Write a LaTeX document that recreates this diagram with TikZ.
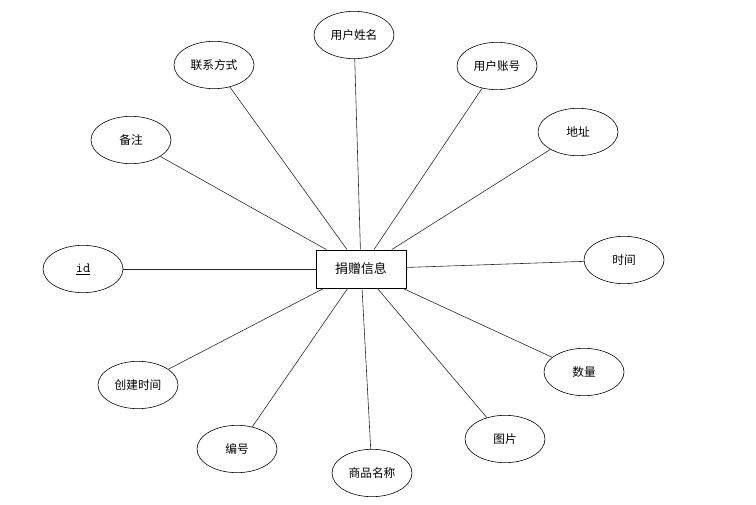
\documentclass[tikz,border=0pt]{standalone}
\usepackage{fontspec}
\newfontfamily\cjk{Noto Sans CJK SC}
\usetikzlibrary{shapes}
\tikzset{
	attr/.style={draw, ellipse, line width=0.5pt, minimum width=2.4cm,
		minimum height=1.42cm, inner sep=0pt, font=\cjk\fontsize{10}{12}\selectfont},
	entity/.style={draw, rectangle, line width=0.7pt, minimum width=2.7cm,
		minimum height=1.14cm, font=\cjk\fontsize{11}{13}\selectfont},
	link/.style={line width=0.5pt, black!85}
}
\begin{document}
\begin{tikzpicture}[x=0.03cm, y=-0.03cm]
			\useasboundingbox (0,0) rectangle (756,505);
			%% entity
			\node[entity] (donate) at (361,269) {捐赠信息};
			%% attributes
			\node[attr] (name) at (354,35) {用户姓名};
			\node[attr] (contact) at (214,65) {联系方式};
			\node[attr] (account) at (497,66) {用户账号};
			\node[attr] (remark) at (131,140) {备注};
			\node[attr] (addr) at (578,132) {地址};
			\node[attr] (id) at (83,269) {\ttfamily\fontsize{12}{14}\selectfont\underline{id}};
			\node[attr] (time) at (624,260) {时间};
			\node[attr] (created) at (138,385) {创建时间};
			\node[attr] (amount) at (584,372) {数量};
			\node[attr] (number) at (237,449) {编号};
			\node[attr] (picture) at (505,439) {图片};
			\node[attr] (goods) at (372,473) {商品名称};
			%% links
			\foreach \a in {name,contact,account,remark,addr,id,time,
				created,amount,number,picture,goods}
				\draw[link] (donate) -- (\a);
		\end{tikzpicture}
\end{document}
